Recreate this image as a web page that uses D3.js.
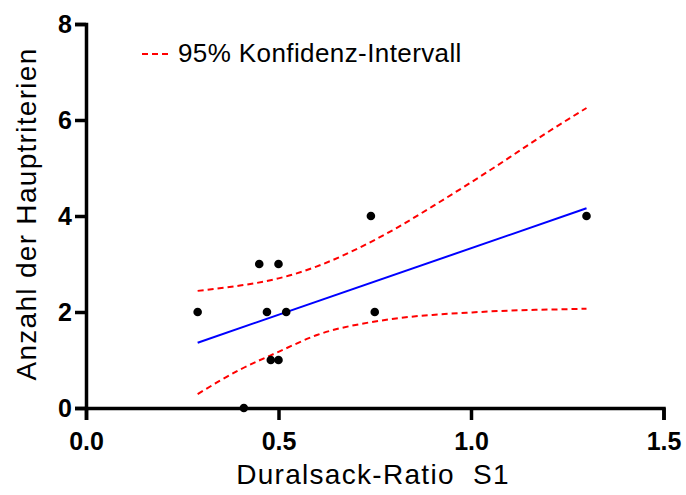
<!DOCTYPE html>
<html>
<head>
<meta charset="utf-8">
<script src="https://cdn.jsdelivr.net/npm/d3@7"></script>
<style>
  body { margin: 0; background: #fff; }
  text { font-family: "Liberation Sans", Arial, sans-serif; }
</style>
</head>
<body>
<div id="dataviz"></div>
<script>
// data
var ratio = [0.29, 0.45, 0.50, 0.47, 0.52, 0.74, 0.75, 0.48, 0.50, 0.41, 1.30];
var criteria = [2, 3, 3, 2, 2, 4, 2, 1, 1, 0, 4];

// regression line ends
var fitX = [0.29, 1.30];
var fitY = [1.36, 4.16];

// 95% confidence band
var bandX = [0.29, 0.40, 0.50, 0.60, 0.70, 0.80, 0.90, 1.00, 1.10, 1.20, 1.30];
var bandUpper = [2.44, 2.55, 2.70, 2.95, 3.30, 3.72, 4.20, 4.70, 5.22, 5.75, 6.25];
var bandLower = [0.29, 0.80, 1.17, 1.52, 1.73, 1.86, 1.94, 1.99, 2.03, 2.05, 2.07];

var xTicks = [0, 0.5, 1.0, 1.5];
var yTicks = [0, 2, 4, 6, 8];

var width = 686, height = 495;

var svg = d3.select("#dataviz")
  .append("svg")
    .attr("width", width)
    .attr("height", height);

var x = d3.scaleLinear().domain([0, 1.5]).range([86, 663.5]);
var y = d3.scaleLinear().domain([0, 8]).range([408, 24]);

// axes
var xAxis = svg.append("g")
  .attr("transform", "translate(0," + y(0) + ")")
  .call(d3.axisBottom(x)
    .tickValues(xTicks)
    .tickFormat(d3.format(".1f"))
    .tickSizeOuter(0)
    .tickSize(12)
    .tickPadding(12));

var yAxis = svg.append("g")
  .attr("transform", "translate(" + x(0) + ",0)")
  .call(d3.axisLeft(y)
    .tickValues(yTicks)
    .tickFormat(d3.format("d"))
    .tickSizeOuter(0)
    .tickSize(11)
    .tickPadding(3));

svg.selectAll(".domain, .tick line")
  .attr("stroke", "#000")
  .attr("stroke-width", 3.5);

svg.selectAll(".tick text")
  .attr("fill", "#000")
  .style("font-size", "25px")
  .style("font-weight", "bold")
  .style("font-family", "'Liberation Sans', Arial, sans-serif");

// confidence band
var line = d3.line()
  .x(function(d, i){ return x(bandX[i]); })
  .y(function(d){ return y(d); })
  .curve(d3.curveNatural);

[bandUpper, bandLower].forEach(function(band){
  svg.append("path")
    .datum(band)
    .attr("d", line)
    .attr("fill", "none")
    .attr("stroke", "#ff0000")
    .attr("stroke-width", 2)
    .attr("stroke-dasharray", "6,4");
});

// regression line
svg.append("line")
  .attr("x1", x(fitX[0]))
  .attr("y1", y(fitY[0]))
  .attr("x2", x(fitX[1]))
  .attr("y2", y(fitY[1]))
  .attr("stroke", "#0000ff")
  .attr("stroke-width", 2);

// points
svg.selectAll(".dot")
  .data(ratio)
  .enter()
  .append("circle")
    .classed("dot", true)
    .attr("cx", function(d){ return x(d); })
    .attr("cy", function(d, i){ return y(criteria[i]); })
    .attr("r", 4.3)
    .attr("fill", "#000");

// legend
svg.append("line")
  .attr("x1", 142)
  .attr("x2", 168)
  .attr("y1", 54)
  .attr("y2", 54)
  .attr("stroke", "#ff0000")
  .attr("stroke-width", 2)
  .attr("stroke-dasharray", "6,4");

svg.append("text")
  .attr("x", 178)
  .attr("y", 62)
  .text("95% Konfidenz-Intervall")
    .style("font-size", "26px")
    .style("letter-spacing", "0.4px");

// x axis label
svg.append("text")
  .attr("x", 373)
  .attr("y", 484)
  .text("Duralsack-Ratio\u00a0\u00a0S1")
    .style("font-size", "28px")
    .style("letter-spacing", "1.3px")
    .style("text-anchor", "middle");

// y axis label
svg.append("text")
  .attr("transform", "translate(36,214) rotate(-90)")
  .text("Anzahl der Hauptriterien")
    .style("font-size", "28px")
    .style("letter-spacing", "1.3px")
    .style("text-anchor", "middle");
</script>
</body>
</html>
